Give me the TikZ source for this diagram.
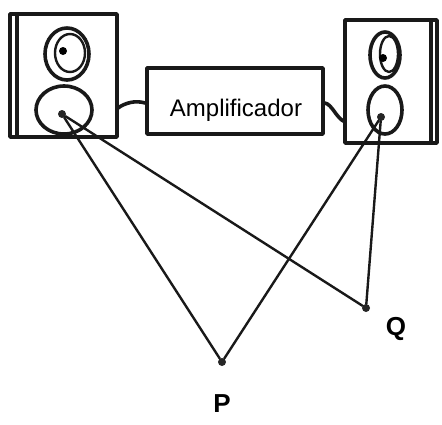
\documentclass[tikz,border=0pt]{standalone}
\usepackage{fontspec}
\setmainfont{Liberation Sans}
\begin{document}
\begin{tikzpicture}[x=1pt,y=-1pt,line cap=round,line join=round,
  ink/.style={draw=black!90,line width=3.6pt},
  wire/.style={draw=black!90,line width=2.4pt},
  dotpt/.style={circle,fill=black!85,inner sep=0pt,minimum size=8pt},
  lbl/.style={font=\bfseries\fontsize{26}{28}\selectfont}]
\useasboundingbox (0,0) rectangle (442,424);
% left loudspeaker cabinet with side panel
\draw[ink] (10,14) rectangle (117,137);
\draw[ink] (17,16) -- (17,136);
\draw[ink] (67,54) ellipse (22 and 26);
\draw[wire] (70,53) ellipse (15 and 19);
\draw[ink] (64,110) ellipse (28 and 24);
\fill (63,51) circle (4);
% right loudspeaker cabinet with side panel
\draw[ink] (345,20) rectangle (437,143);
\draw[ink] (431,22) -- (431,142);
\draw[ink] (385,55) ellipse (15 and 23);
\draw[wire] (389,54) ellipse (9 and 18);
\draw[ink] (385,110) ellipse (17 and 24);
\fill (383,58) circle (4);
% amplifier box and its label
\node[ink,minimum width=176pt,minimum height=66pt,inner sep=0pt] (amp) at (235,101) {};
\node[font=\fontsize{24}{26}\selectfont,inner sep=0pt] (amptext) at (236,110) {Amplificador};
% woofer centres and listening points
\node[dotpt] (wl) at (62,114) {};
\node[dotpt] (wr) at (381,117) {};
\node[dotpt] (p) at (222,362) {};
\node[dotpt] (q) at (366,308) {};
\node[lbl] (pl) at (222,404) {P};
\node[lbl] (ql) at (396,329) {Q};
% cables to the amplifier
\coordinate (cl) at (118,108);
\coordinate (cr) at (345,122);
\draw[ink] (amp.west) ++(0,2) .. controls (135,100) and (125,103) .. (cl);
\draw[ink] (amp.east) ++(0,2) .. controls (332,104) and (336,118) .. (cr);
% sound paths
\draw[wire] (wl) -- (p);
\draw[wire] (wl) -- (q);
\draw[wire] (wr) -- (p);
\draw[wire] (wr) -- (q);
\end{tikzpicture}
\end{document}
